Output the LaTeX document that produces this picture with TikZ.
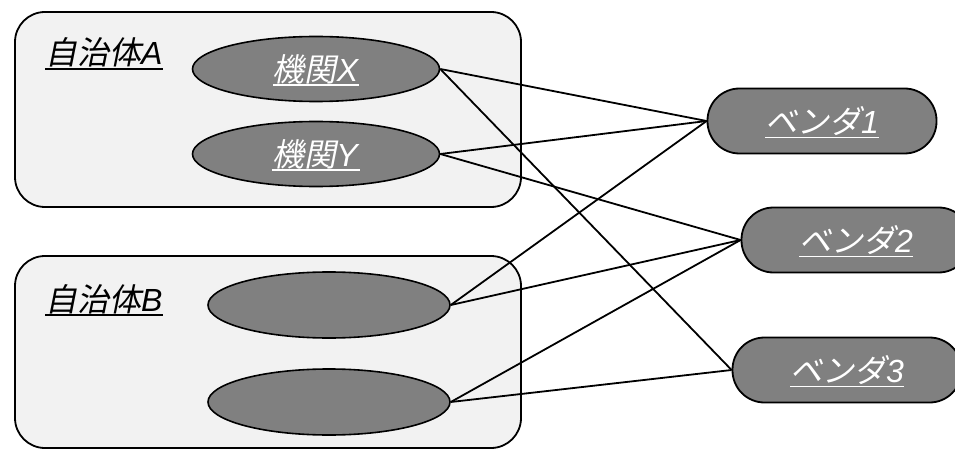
\documentclass[tikz,border=0pt]{standalone}
\usepackage{fontspec}
\setmainfont{Liberation Sans}
\newfontfamily\jp{Noto Sans CJK JP}[FakeSlant=0.2]
\usetikzlibrary{shapes.geometric}
\definecolor{boxfill}{RGB}{242,242,242}
\definecolor{nodefill}{RGB}{128,128,128}
\newcommand\ulbl[1]{\setbox0=\hbox{#1}\rlap{\raisebox{-5pt}[0pt][0pt]{\rule{\wd0}{1.8pt}}}\box0}
\tikzset{
  group/.style={draw=black, line width=1.8pt, fill=boxfill, rounded corners=30pt},
  grouplabel/.style={anchor=base west, inner sep=0pt, font=\fontsize{32}{38}\selectfont, text=black},
  organ/.style={ellipse, draw=black, line width=1.6pt, fill=nodefill, inner sep=0pt, text=white, font=\fontsize{32}{38}\selectfont},
  vendor/.style={rectangle, rounded corners=32pt, draw=black, line width=1.8pt, fill=nodefill, inner sep=0pt, minimum width=229pt, minimum height=65pt, text=white, font=\fontsize{32}{38}\selectfont},
  conn/.style={draw=black, line width=1.8pt}
}
\begin{document}
\begin{tikzpicture}[x=1pt,y=-1pt]
\useasboundingbox (0,0) rectangle (955,449);
\clip (0,0) rectangle (955,449);
\fill[white] (0,0) rectangle (955,449);
\draw[group] (15,12) rectangle (521,207);
\draw[group] (15,256) rectangle (521,448);
\node[grouplabel] (la) at (45,65) {\ulbl{{\jp 自治体}\textit{A}}};
\node[grouplabel] (lb) at (45,311) {\ulbl{{\jp 自治体}\textit{B}}};
\node[organ, minimum width=247pt, minimum height=65pt] (x) at (316,69) {\ulbl{{\jp 機関}\textit{X}}};
\node[organ, minimum width=247pt, minimum height=65pt] (y) at (316,154) {\ulbl{{\jp 機関}\textit{Y}}};
\node[organ, minimum width=242pt, minimum height=66pt] (b1) at (329,305) {};
\node[organ, minimum width=242pt, minimum height=66pt] (b2) at (329,402) {};
\node[vendor] (v1) at (822,121) {\ulbl{{\jp ベンダ}\textit{1}}};
\node[vendor] (v2) at (856,240) {\ulbl{{\jp ベンダ}\textit{2}}};
\node[vendor] (v3) at (847,370) {\ulbl{{\jp ベンダ}\textit{3}}};
\draw[conn] (x.east) -- (v1.west);
\draw[conn] (x.east) -- (v3.west);
\draw[conn] (y.east) -- (v1.west);
\draw[conn] (y.east) -- (v2.west);
\draw[conn] (b1.east) -- (v1.west);
\draw[conn] (b1.east) -- (v2.west);
\draw[conn] (b2.east) -- (v2.west);
\draw[conn] (b2.east) -- (v3.west);
\end{tikzpicture}
\end{document}
